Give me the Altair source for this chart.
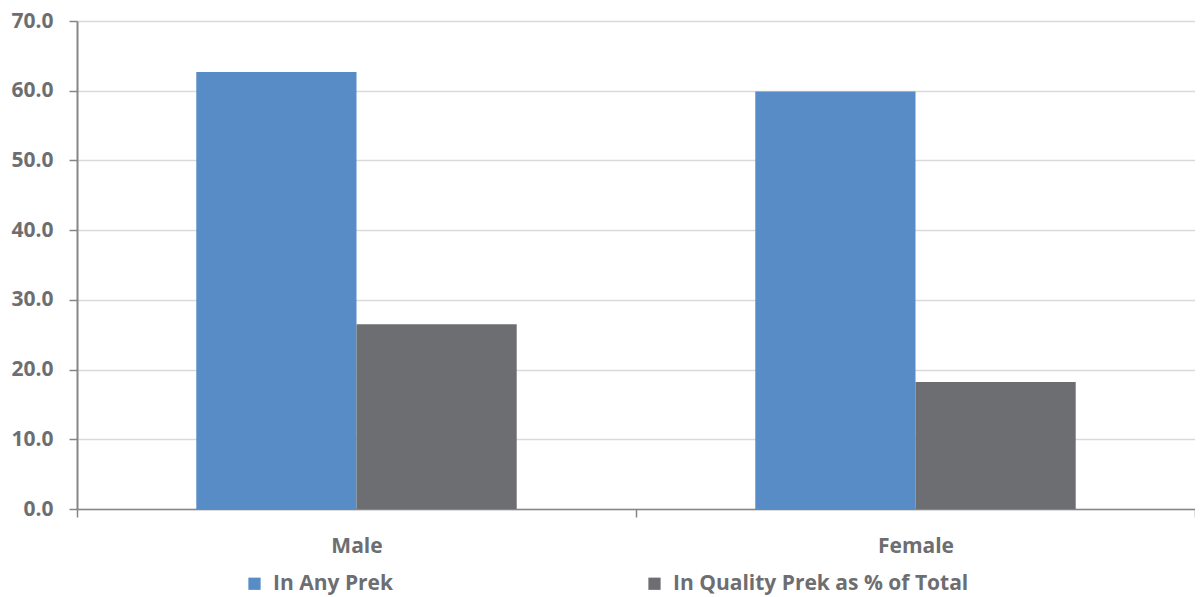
import altair as alt
import pandas as pd

categories = ["Male", "Female"]
series = ["In Any Prek", "In Quality Prek as % of Total"]
any_prek = [62.7, 59.9]
quality_prek = [26.5, 18.2]
y_ticks = [0, 10, 20, 30, 40, 50, 60, 70]
colors = ["#578CC6", "#6D6E71"]

rows = []
for i, c in enumerate(categories):
    rows.append({"cat": c, "series": series[0], "value": any_prek[i]})
    rows.append({"cat": c, "series": series[1], "value": quality_prek[i]})
df = pd.DataFrame(rows)

FONT = "Open Sans"
TXT = "#6D6E71"

chart = alt.Chart(df).mark_bar().encode(
    x=alt.X("cat:N", sort=categories, title=None,
            scale=alt.Scale(paddingInner=0, paddingOuter=0),
            axis=alt.Axis(labelAngle=0, tickBand="extent", tickSize=8,
                          tickColor="#868686", tickWidth=1.5,
                          domainColor="#868686", domainWidth=1.5,
                          labelFont=FONT, labelFontSize=21, labelFontWeight="bold",
                          labelColor=TXT, labelPadding=18, grid=False)),
    xOffset=alt.XOffset("series:N", sort=series,
                        scale=alt.Scale(paddingInner=0, paddingOuter=0.7446)),
    y=alt.Y("value:Q", title=None,
            scale=alt.Scale(domain=[0, 70], nice=False),
            axis=alt.Axis(values=y_ticks, format=".1f", tickSize=8,
                          tickColor="#868686", tickWidth=1.5,
                          domainColor="#868686", domainWidth=2,
                          gridColor="#d9d9d9", gridWidth=1.5,
                          labelFont=FONT, labelFontSize=21, labelFontWeight="bold",
                          labelColor=TXT, labelPadding=16)),
    color=alt.Color("series:N", sort=series,
                    scale=alt.Scale(domain=series, range=colors),
                    legend=alt.Legend(title=None, orient="none", legendX=167, legendY=552,
                                      direction="horizontal", columns=2, columnPadding=250,
                                      symbolType="square", symbolSize=150,
                                      symbolStrokeWidth=0, labelOffset=8,
                                      labelFont=FONT, labelFontSize=21, labelFontWeight="bold",
                                      labelColor=TXT, labelLimit=500)),
).properties(
    width=1118, height=488,
    padding={"left": 69, "top": 13, "right": 0, "bottom": 88},
    autosize=alt.AutoSizeParams(type="none"),
).configure_view(stroke=None)

chart.save("out.html", embed_options={"renderer": "svg", "actions": False})
